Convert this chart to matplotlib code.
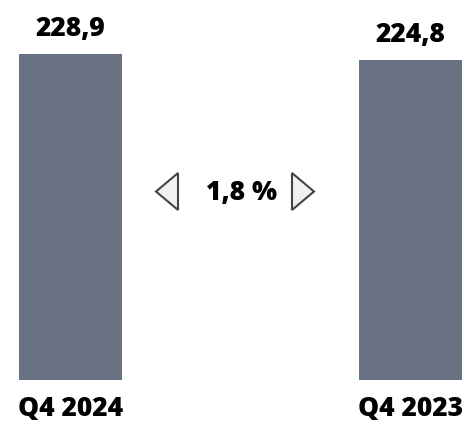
import matplotlib.pyplot as plt
from matplotlib.patches import Polygon

quarters = ['Q4 2024', 'Q4 2023']
values = [228.9, 224.8]
value_labels = ['228,9', '224,8']
change_label = '1,8 %'

W, H = 469, 423
fig = plt.figure(figsize=(W / 100, H / 100), dpi=100)
plt.rcParams['font.family'] = ['Open Sans', 'DejaVu Sans']

# axes spans from the left edge of the first bar to the right edge of the second
ax = fig.add_axes([19 / W, 43 / H, 443 / W, 326 / H])
bw = 0.303
ax.bar(range(len(values)), values, width=bw, color='#687283')
ax.set_xlim(-bw / 2, 1 + bw / 2)
ax.set_ylim(0, 228.9)
ax.axis('off')

fs = 19
for i, (v, lab) in enumerate(zip(values, value_labels)):
    ax.annotate(lab, (i, v), xytext=(0, 12.6), textcoords='offset points',
                ha='center', va='baseline', fontsize=fs, fontweight='heavy',
                annotation_clip=False)
    ax.annotate(quarters[i], (i, 0), xytext=(0, -26), textcoords='offset points',
                ha='center', va='baseline', fontsize=fs, fontweight='heavy',
                annotation_clip=False)

# change indicator between the bars
def px(x, y):
    return (x / W, 1 - y / H)

fig.text(241 / W, 1 - 200 / H, change_label, ha='center', va='baseline',
         fontsize=fs, fontweight='heavy')
left_tri = [px(178, 173), px(178, 210), px(156, 191.5)]
right_tri = [px(292, 173), px(292, 210), px(314, 191.5)]
for tri in (left_tri, right_tri):
    fig.add_artist(Polygon(tri, closed=True, transform=fig.transFigure,
                           facecolor='#f0f0f0', edgecolor='#444444', linewidth=1.5))

fig.savefig('out.png', dpi=100)
